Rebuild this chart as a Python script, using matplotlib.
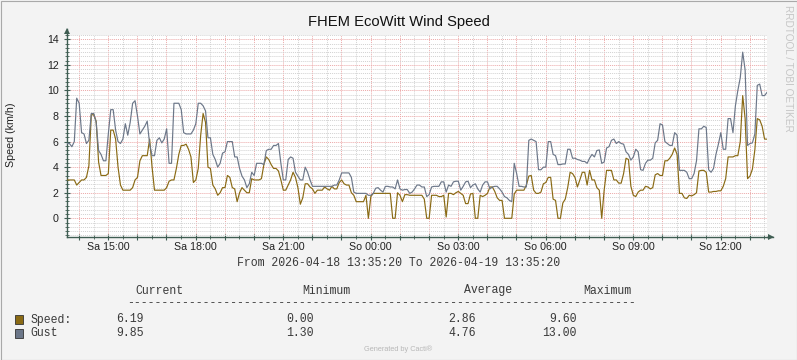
import matplotlib
matplotlib.use('Agg')
import matplotlib.pyplot as plt
import matplotlib.dates as mdates
from matplotlib.ticker import MultipleLocator, FuncFormatter
from matplotlib.patches import Rectangle
import pandas as pd

# 24 h window, 5 minute steps (one row = one hour)
start = pd.Timestamp('2026-04-18 13:35:20')
end = pd.Timestamp('2026-04-19 13:35:20')
times = pd.date_range(start, end, freq='5min').to_pydatetime()

speed = [
    3.0, 3.0, 3.0, 3.0, 2.6, 2.8, 3.0, 3.0, 3.2, 4.1, 8.1, 8.1,
    7.6, 4.4, 3.35, 3.35, 3.35, 3.5, 6.9, 6.9, 6.2, 4.0, 2.6, 2.2,
    2.2, 2.2, 2.2, 2.4, 3.0, 3.2, 4.5, 4.9, 4.9, 4.9, 6.2, 4.0,
    2.2, 2.2, 2.2, 2.2, 2.2, 2.4, 2.9, 3.0, 3.0, 3.9, 5.0, 5.7,
    5.7, 5.8, 5.4, 4.8, 2.8, 3.0, 3.9, 6.5, 8.2, 7.5, 4.0, 3.9,
    2.6, 2.3, 1.8, 2.0, 2.4, 2.4, 3.35, 3.2, 2.4, 2.3, 1.3, 2.0,
    2.4, 2.2, 2.0, 2.0, 3.1, 3.0, 3.0, 3.0, 3.1, 4.2, 4.8, 4.6,
    4.2, 3.9, 3.9, 3.7, 3.0, 2.2, 2.2, 2.6, 3.0, 3.6, 3.2, 2.4,
    1.1, 1.6, 2.7, 2.7, 2.45, 2.3, 1.95, 2.2, 2.2, 2.2, 2.45, 2.3,
    2.2, 2.5, 2.3, 2.3, 2.8, 3.0, 2.7, 2.6, 2.6, 2.0, 1.8, 1.3,
    1.3, 1.3, 1.3, 1.8, 0.0, 1.7, 1.95, 1.95, 1.95, 1.95, 1.95, 1.95,
    1.95, 1.95, 0.0, 0.0, 2.0, 1.8, 1.3, 1.85, 1.85, 1.8, 1.8, 1.8,
    1.8, 1.8, 1.8, 1.5, 0.0, 0.0, 1.8, 1.8, 1.8, 1.7, 1.7, 1.8,
    0.1, 1.95, 1.95, 1.85, 2.0, 2.1, 1.95, 1.8, 1.15, 1.15, 1.9, 1.95,
    0.0, 0.0, 1.8, 1.7, 1.8, 1.95, 2.45, 2.45, 2.1, 1.6, 1.4, 1.4,
    0.0, 0.0, 0.0, 0.0, 1.9, 2.2, 2.2, 2.2, 2.2, 2.6, 3.3, 3.35,
    2.2, 1.95, 1.95, 2.05, 2.7, 2.8, 3.2, 3.2, 1.5, 1.4, 0.0, 0.0,
    1.2, 1.5, 2.4, 3.6, 3.5, 3.2, 2.45, 3.0, 3.6, 3.6, 2.6, 3.75,
    3.0, 3.0, 2.4, 2.2, 0.0, 2.2, 3.75, 3.75, 3.75, 3.0, 3.0, 2.75,
    2.75, 3.5, 4.7, 4.6, 2.5, 1.8, 1.7, 2.05, 2.2, 2.2, 2.5, 2.45,
    2.3, 2.4, 3.4, 3.5, 3.35, 3.35, 4.5, 4.5, 4.7, 5.0, 5.5, 5.0,
    1.95, 1.95, 1.6, 1.55, 1.8, 1.75, 1.85, 2.0, 3.7, 3.75, 3.75, 3.6,
    2.05, 2.05, 2.1, 2.1, 2.15, 2.15, 2.5, 3.1, 4.8, 4.8, 4.8, 4.9,
    4.9, 6.0, 9.6, 7.8, 3.1, 3.3, 3.85, 5.35, 7.8, 7.7, 7.2, 6.2,
    6.19,
]

gust = [
    5.85, 5.85, 5.6, 6.0, 9.4, 9.0, 6.7, 6.6, 5.85, 6.1, 8.2, 8.2,
    7.5, 5.3, 5.0, 4.5, 4.5, 6.6, 8.5, 8.5, 6.9, 6.0, 5.85, 6.2,
    7.4, 6.5, 7.5, 9.0, 9.2, 8.0, 6.6, 6.9, 7.2, 7.6, 5.8, 4.9,
    4.9, 6.1, 6.3, 5.9, 6.2, 7.0, 4.3, 4.3, 9.0, 9.0, 9.0, 8.5,
    6.7, 6.6, 6.6, 6.6, 6.9, 7.4, 9.0, 9.0, 8.8, 8.4, 6.3, 6.3,
    5.0, 4.6, 4.0, 4.3, 5.1, 5.2, 6.0, 6.0, 6.0, 4.8, 4.8, 3.9,
    3.3, 3.0, 2.4, 2.7, 3.6, 3.35, 4.3, 4.3, 4.3, 4.2, 5.3, 5.4,
    5.4, 5.7, 5.7, 5.85, 4.3, 3.0, 3.0, 4.6, 4.8, 4.7, 3.6, 3.3,
    3.0, 3.0, 4.0, 3.6, 3.0, 2.5, 2.5, 2.5, 2.5, 2.5, 2.5, 2.5,
    2.5, 2.5, 2.6, 2.6, 3.0, 3.55, 3.55, 3.55, 3.55, 3.2, 2.05, 1.95,
    1.95, 1.95, 1.95, 1.95, 1.8, 1.8, 1.95, 2.35, 2.4, 2.2, 2.05, 2.5,
    2.5, 2.45, 2.45, 2.3, 3.0, 2.3, 2.2, 2.25, 2.25, 1.95, 2.05, 2.3,
    2.6, 2.6, 2.45, 2.45, 1.7, 1.85, 2.45, 2.5, 2.5, 2.5, 2.85, 2.85,
    2.05, 2.6, 2.5, 2.85, 2.9, 2.9, 2.2, 2.5, 2.85, 2.9, 2.4, 2.6,
    2.7, 2.3, 2.05, 2.6, 2.85, 2.85, 2.3, 2.45, 2.5, 2.5, 2.3, 2.05,
    1.7, 1.6, 1.4, 1.3, 4.3, 3.5, 2.5, 2.5, 2.45, 2.45, 6.1, 6.2,
    6.1, 6.0, 3.8, 3.8, 4.0, 4.0, 6.0, 6.0, 5.0, 4.9, 4.2, 4.2,
    4.25, 4.25, 5.4, 5.4, 4.7, 4.7, 4.6, 4.55, 4.45, 4.45, 4.3, 4.7,
    5.0, 4.8, 5.3, 5.35, 4.3, 4.4, 5.5, 5.6, 6.1, 6.2, 5.85, 6.0,
    5.85, 5.8, 5.2, 5.0, 4.55, 4.8, 5.4, 5.2, 3.8, 3.75, 4.3, 4.55,
    4.55, 4.7, 5.9, 6.1, 7.4, 7.3, 6.0, 5.85, 5.7, 5.7, 6.7, 6.5,
    3.75, 3.75, 3.75, 3.6, 3.1, 3.1, 3.5, 4.5, 7.0, 7.0, 7.2, 7.1,
    3.8, 3.6, 3.9, 5.0, 5.8, 6.7, 5.4, 5.4, 7.8, 7.8, 6.7, 8.8,
    10.0, 11.0, 13.0, 11.6, 5.7, 5.85, 5.9, 6.6, 10.4, 10.5, 9.6, 9.6,
    9.85,
]

legend_names = ['Speed:', 'Gust']
legend_cols = ['Current', 'Minimum', 'Average', 'Maximum']
legend_vals = [['6.19', '0.00', '2.86', '9.60'],
               ['9.85', '1.30', '4.76', '13.00']]

DAYS = ['Mo', 'Di', 'Mi', 'Do', 'Fr', 'Sa', 'So']
SPEED_C = '#8a6a14'
GUST_C = '#6c7789'
AXIS_C = '#3f5d52'
TXT_C = '#3a3a3a'
W, H = 797, 360
SANS = 'Liberation Sans'
MONO = 'Liberation Mono'


def fx(x):
    return x / W


def fy(y):
    return 1 - y / H


fig = plt.figure(figsize=(7.97, 3.6), dpi=100, facecolor='#f3f3f3')
ax = fig.add_axes([fx(67), fy(236.7), fx(767) - fx(67), fy(35) - fy(236.7)])
ax.set_facecolor('white')

ax.plot(times, speed, color=SPEED_C, lw=0.85, zorder=3)
ax.plot(times, gust, color=GUST_C, lw=0.85, zorder=4)
ax.set_xlim(times[0], times[-1])
ax.set_ylim(-1.44, 14.34)

# grid
ax.xaxis.set_major_locator(mdates.HourLocator())
ax.xaxis.set_minor_locator(mdates.MinuteLocator(byminute=[30]))


def xfmt(v, pos):
    d = mdates.num2date(v)
    if d.hour % 3 == 0 and d.minute == 0:
        return f'{DAYS[d.weekday()]} {d:%H:%M}'
    return ''


ax.xaxis.set_major_formatter(FuncFormatter(xfmt))
ax.yaxis.set_major_locator(MultipleLocator(2))
ax.yaxis.set_minor_locator(MultipleLocator(1 / 3))
ax.grid(which='minor', color='#d2d2d2', ls=(0, (1, 1)), lw=0.7)
ax.grid(which='major', color='#eca8a8', ls=(0, (1, 1)), lw=0.7)
ax.set_axisbelow(True)

for s in ['top', 'right']:
    ax.spines[s].set_visible(False)
for s in ['left', 'bottom']:
    ax.spines[s].set_color(AXIS_C)
    ax.spines[s].set_linewidth(1)

ax.tick_params(which='major', direction='inout', length=4, width=0.8,
               color=AXIS_C, labelsize=7.7, labelcolor='#222222')
ax.tick_params(which='minor', direction='inout', length=3, width=0.6,
               color=AXIS_C)
ax.tick_params(axis='x', pad=2)
ax.tick_params(axis='y', pad=4)
for lab in ax.get_xticklabels() + ax.get_yticklabels():
    lab.set_fontfamily(SANS)

# axis arrows
ax.plot([1, 1 + 6 / 700], [0, 0], transform=ax.transAxes, clip_on=False,
        color=AXIS_C, lw=1)
ax.plot([1 + 4 / 700], [0], marker='>', ms=4.5, transform=ax.transAxes,
        clip_on=False, color=AXIS_C, mew=0)
ax.plot([0, 0], [1, 1 + 6 / 201.7], transform=ax.transAxes, clip_on=False,
        color=AXIS_C, lw=1)
ax.plot([0], [1 + 4 / 201.7], marker='^', ms=4.5, transform=ax.transAxes,
        clip_on=False, color=AXIS_C, mew=0)

# texts
fig.text(fx(398.5), fy(22), 'FHEM EcoWitt Wind Speed', ha='center',
         va='center', fontsize=10.6, family=SANS, color='#111111')
fig.text(fx(11), fy(135), 'Speed (km/h)', rotation=90, ha='center',
         va='center', fontsize=7.7, family=SANS, color='#222222')
fig.text(fx(788), fy(5), 'RRDTOOL / TOBI OETIKER', rotation=270,
         ha='center', va='top', fontsize=7.2, family=SANS, color='#c6c6c6')
fig.text(fx(398.5), fy(263.5),
         'From 2026-04-18 13:35:20 To 2026-04-19 13:35:20',
         ha='center', va='center', fontsize=8.3, family=MONO, color=TXT_C)

col_x = [135, 302.5, 463.6, 583]
for name, x in zip(legend_cols, col_x):
    fig.text(fx(x), fy(290.5), name, ha='left', va='center', fontsize=8.3,
             family=MONO, color=TXT_C)
fig.text(fx(127.5), fy(303), '-' * 74, ha='left', va='center', fontsize=8.3,
         family=MONO, color=TXT_C)

val_right = [143.4, 313.7, 476, 576.5]
row_y = [319.5, 333.5]
for name, vals, y, c in zip(legend_names, legend_vals, row_y, [SPEED_C, GUST_C]):
    fig.add_artist(Rectangle((fx(15.3), fy(y + 4.6)), fx(8), 9.2 / H,
                             transform=fig.transFigure, facecolor=c,
                             edgecolor='#333333', lw=0.6))
    fig.text(fx(30.5), fy(y), name, ha='left', va='center', fontsize=8.3,
             family=MONO, color=TXT_C)
    for v, x in zip(vals, val_right):
        fig.text(fx(x), fy(y), v, ha='right', va='center', fontsize=8.3,
                 family=MONO, color=TXT_C)

fig.text(fx(398.5), fy(349.5), 'Generated by Cacti®', ha='center',
         va='center', fontsize=5.3, family=SANS, color='#b8b8b8')

# outer frame
fig.add_artist(Rectangle((0.5 / W, 0.5 / H), 1 - 1 / W, 1 - 1 / H,
                         transform=fig.transFigure, fill=False,
                         edgecolor='#a9a9a9', lw=0.8))

plt.savefig('out.png', dpi=100, facecolor=fig.get_facecolor())
